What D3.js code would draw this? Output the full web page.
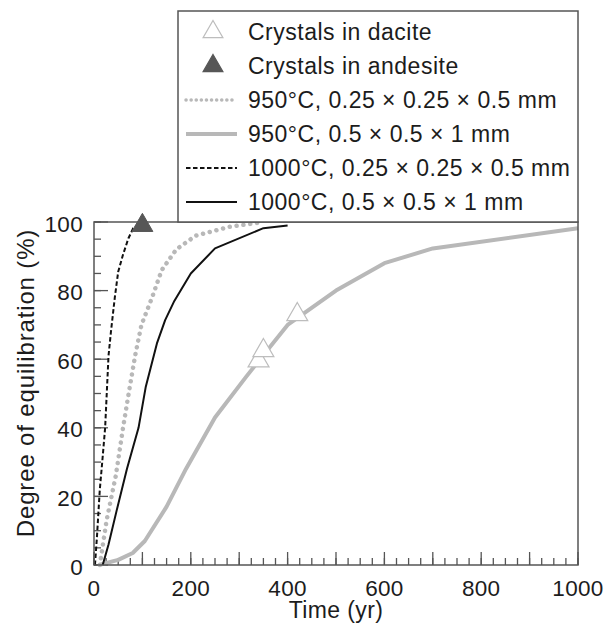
<!DOCTYPE html>
<html>
<head>
<meta charset="utf-8">
<script src="https://cdn.jsdelivr.net/npm/d3@7/dist/d3.min.js"></script>
<style>
  html, body { margin: 0; padding: 0; background: #fff; }
  svg { display: block; }
  text { font-family: "Liberation Sans", Arial, Helvetica, sans-serif; fill: #1c1c1c; }
</style>
</head>
<body>
<svg id="chart" width="606" height="628"></svg>
<script>
// Diffusion model: degree of equilibration (%) vs time (yr)
const t950Small  = [12, 26, 45, 60, 74, 85, 98, 120, 140, 170, 210, 280, 350];
const e950Small  = [0, 13, 26, 40, 52, 61, 70, 78, 86, 92, 96, 98.6, 100];

const t950Large  = [10, 50, 80, 105, 150, 190, 250, 315, 400, 500, 600, 700, 1000];
const e950Large  = [0, 1.5, 3.5, 7, 17, 28, 43, 55, 70, 80, 88, 92.3, 98.2];

const t1000Small = [2, 6, 12, 17, 23, 27, 30, 35, 43, 50, 60, 71, 81, 100];
const e1000Small = [0, 8, 22, 30, 40, 52, 61, 68, 78, 85.5, 90.5, 95.2, 98.2, 100];

const t1000Large = [18, 30, 47, 68, 92, 107, 130, 147, 166, 200, 250, 350, 400];
const e1000Large = [0, 6, 16, 28, 40, 52, 64.6, 71.4, 77, 85, 92.3, 98.2, 99];

// Measured crystals
const daciteTime = [340, 350, 420];
const daciteEq   = [59.5, 62.5, 73];
const andesiteTime = [100];
const andesiteEq   = [99];

const xTickLabels = [0, 200, 400, 600, 800, 1000];
const yTickLabels = [0, 20, 40, 60, 80, 100];

const legendLabels = [
  "Crystals in dacite",
  "Crystals in andesite",
  "950°C, 0.25 × 0.25 × 0.5 mm",
  "950°C, 0.5 × 0.5 × 1 mm",
  "1000°C, 0.25 × 0.25 × 0.5 mm",
  "1000°C, 0.5 × 0.5 × 1 mm"
];

const svg = d3.select("#chart");
const x = d3.scaleLinear().domain([0, 1000]).range([94, 578]);
const y = d3.scaleLinear().domain([0, 100]).range([565, 222]);

const frameColor = "#555";
const lightGrey = "#b8b8b8";

const styles = {
  s950Small:  { stroke: lightGrey, width: 4.5, dash: "0.1,6.8", cap: "round" },
  s950Large:  { stroke: lightGrey, width: 4, dash: null, cap: "butt" },
  s1000Small: { stroke: "#111", width: 2, dash: "4.5,2.5", cap: "butt" },
  s1000Large: { stroke: "#111", width: 2, dash: null, cap: "butt" }
};

// ---- ticks (inward) ----
const g = svg.append("g");
function xTicks(step, len) {
  const vals = d3.range(0, 1000 + 1e-9, step);
  g.append("g").selectAll("line").data(vals).join("line")
    .attr("x1", d => x(d)).attr("x2", d => x(d))
    .attr("y1", y(0)).attr("y2", y(0) - len)
    .attr("stroke", frameColor).attr("stroke-width", 1.3);
}
function yTicks(step, len) {
  const vals = d3.range(0, 100 + 1e-9, step);
  g.append("g").selectAll("line").data(vals).join("line")
    .attr("y1", d => y(d)).attr("y2", d => y(d))
    .attr("x1", x(0)).attr("x2", x(0) + len)
    .attr("stroke", frameColor).attr("stroke-width", 1.3);
}
xTicks(25, 7);
xTicks(100, 13);
yTicks(5, 7);
yTicks(20, 14);

// tick labels
g.append("g").selectAll("text").data(xTickLabels).join("text")
  .attr("x", d => x(d)).attr("y", 596)
  .attr("text-anchor", "middle").attr("font-size", 22.5).attr("letter-spacing", "0.3px")
  .text(d => d);
g.append("g").selectAll("text").data(yTickLabels).join("text")
  .attr("x", 83).attr("y", d => y(d) + 9.5)
  .attr("text-anchor", "end").attr("font-size", 22.5).attr("letter-spacing", "0.3px")
  .text(d => d);

// axis titles
svg.append("text")
  .attr("x", (x(0) + x(1000)) / 2).attr("y", 618)
  .attr("text-anchor", "middle").attr("font-size", 23).attr("letter-spacing", "0.4px")
  .text("Time (yr)");
svg.append("text")
  .attr("transform", "translate(34,383) rotate(-90)")
  .attr("text-anchor", "middle").attr("font-size", 24).attr("letter-spacing", "0.85px")
  .text("Degree of equilibration (%)");

// ---- curves ----
const line = d3.line().x(d => x(d[0])).y(d => y(d[1]));
function drawCurve(ts, es, st) {
  const pts = ts.map((t, i) => [t, es[i]]);
  const p = svg.append("path").datum(pts)
    .attr("d", line)
    .attr("fill", "none")
    .attr("stroke", st.stroke)
    .attr("stroke-width", st.width)
    .attr("stroke-linecap", st.cap)
    .attr("stroke-linejoin", "round");
  if (st.dash) p.attr("stroke-dasharray", st.dash);
}
drawCurve(t950Large, e950Large, styles.s950Large);
drawCurve(t950Small, e950Small, styles.s950Small);
drawCurve(t1000Large, e1000Large, styles.s1000Large);
drawCurve(t1000Small, e1000Small, styles.s1000Small);

// frame
svg.append("rect")
  .attr("x", x(0)).attr("y", y(100))
  .attr("width", x(1000) - x(0)).attr("height", y(0) - y(100))
  .attr("fill", "none").attr("stroke", frameColor).attr("stroke-width", 1.5);

// ---- markers ----
const tri = d3.symbol().type(d3.symbolTriangle).size(190);
svg.append("g").selectAll("path")
  .data(daciteTime.map((t, i) => [t, daciteEq[i]]))
  .join("path")
  .attr("d", tri)
  .attr("transform", d => `translate(${x(d[0])},${y(d[1])})`)
  .attr("fill", "#fff").attr("stroke", "#bdbdbd").attr("stroke-width", 1.2);
svg.append("g").selectAll("path")
  .data(andesiteTime.map((t, i) => [t, andesiteEq[i]]))
  .join("path")
  .attr("d", tri)
  .attr("transform", d => `translate(${x(d[0])},${y(d[1])})`)
  .attr("fill", "#575757").attr("stroke", "#575757").attr("stroke-width", 1);

// ---- legend ----
const lg = svg.append("g");
lg.append("rect")
  .attr("x", 178).attr("y", 11).attr("width", 400).attr("height", 211)
  .attr("fill", "#fff").attr("stroke", frameColor).attr("stroke-width", 1.5);

const rowBase = i => 40 + i * 34;
const keys = [
  { kind: "tri", fill: "#fff", stroke: "#bdbdbd" },
  { kind: "tri", fill: "#575757", stroke: "#575757" },
  { kind: "line", st: styles.s950Small },
  { kind: "line", st: styles.s950Large },
  { kind: "line", st: styles.s1000Small },
  { kind: "line", st: styles.s1000Large }
];
keys.forEach((k, i) => {
  const cy = rowBase(i) - 8;
  if (k.kind === "tri") {
    lg.append("path").attr("d", d3.symbol().type(d3.symbolTriangle).size(170))
      .attr("transform", `translate(213,${cy})`)
      .attr("fill", k.fill).attr("stroke", k.stroke).attr("stroke-width", 1.2);
  } else {
    const dotted = k.st === styles.s950Small;
    const l = lg.append("line")
      .attr("x1", 186).attr("x2", 237).attr("y1", cy).attr("y2", cy)
      .attr("stroke", k.st.stroke).attr("stroke-width", dotted ? 3.5 : k.st.width)
      .attr("stroke-linecap", k.st.cap);
    if (k.st.dash) l.attr("stroke-dasharray", dotted ? "0.1,5" : k.st.dash);
  }
  lg.append("text")
    .attr("x", 248).attr("y", rowBase(i))
    .attr("font-size", 23).attr("letter-spacing", "0.5px")
    .text(legendLabels[i]);
});
</script>
</body>
</html>
